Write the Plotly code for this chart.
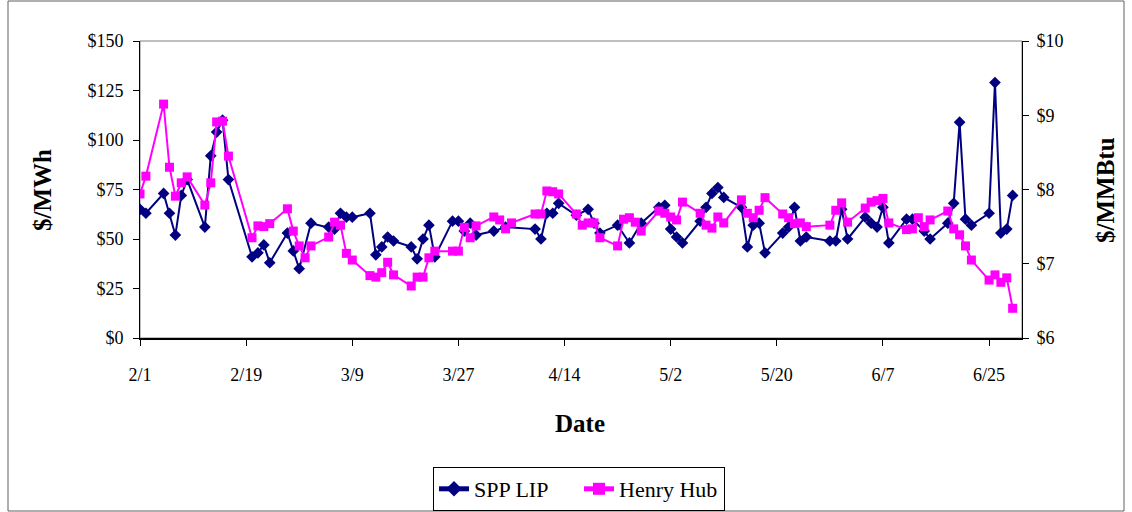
import plotly.graph_objects as go
import pandas as pd

YEAR = 2007

spp_dates = ["2/1", "2/2", "2/5", "2/6", "2/7", "2/8", "2/9", "2/12", "2/13", "2/14", "2/15", "2/16",
             "2/20", "2/21", "2/22", "2/23", "2/26", "2/27", "2/28", "3/2", "3/5", "3/6", "3/7", "3/8", "3/9",
             "3/12", "3/13", "3/14", "3/15", "3/16", "3/19", "3/20", "3/21", "3/22", "3/23",
             "3/26", "3/27", "3/28", "3/29", "3/30", "4/2", "4/4", "4/9", "4/10", "4/11", "4/12", "4/13",
             "4/16", "4/18", "4/19", "4/20", "4/23", "4/25", "4/27", "4/30", "5/1", "5/2", "5/3", "5/4",
             "5/7", "5/8", "5/9", "5/10", "5/11", "5/14", "5/15", "5/16", "5/17", "5/18",
             "5/21", "5/22", "5/23", "5/24", "5/25", "5/29", "5/30", "5/31", "6/1",
             "6/4", "6/5", "6/6", "6/7", "6/8", "6/11", "6/12", "6/14", "6/15",
             "6/18", "6/19", "6/20", "6/21", "6/22", "6/25", "6/26", "6/27", "6/28", "6/29"]
spp_values = [65, 63, 73, 63, 52, 72, 80, 56, 92, 104, 110, 80,
              41, 43, 47, 38, 53, 44, 35, 58, 56, 55, 63, 61, 61,
              63, 42, 46, 51, 49, 46, 40, 50, 57, 41,
              59, 59, 54, 58, 52, 54, 56, 55, 50, 63, 63, 68,
              62, 65, 58, 53, 57, 48, 58, 66, 67, 55, 51, 48,
              59, 66, 73, 76, 71, 66, 46, 57, 58, 43,
              53, 56, 66, 49, 51, 49, 49, 65, 50,
              61, 58, 56, 66, 48, 60, 60, 54, 50,
              58, 68, 109, 60, 57, 63, 129, 53, 55, 72]

hh_dates = ["2/1", "2/2", "2/5", "2/6", "2/7", "2/8", "2/9", "2/12", "2/13", "2/14", "2/15", "2/16",
            "2/20", "2/21", "2/22", "2/23", "2/26", "2/27", "2/28", "3/1", "3/2",
            "3/5", "3/6", "3/7", "3/8", "3/9", "3/12", "3/13", "3/14", "3/15", "3/16",
            "3/19", "3/20", "3/21", "3/22", "3/23", "3/26", "3/27", "3/28", "3/29", "3/30",
            "4/2", "4/3", "4/4", "4/5", "4/9", "4/10", "4/11", "4/12", "4/13",
            "4/16", "4/17", "4/18", "4/19", "4/20", "4/23", "4/24", "4/25", "4/26", "4/27",
            "4/30", "5/1", "5/2", "5/3", "5/4", "5/7", "5/8", "5/9", "5/10", "5/11",
            "5/14", "5/15", "5/16", "5/17", "5/18", "5/21", "5/22", "5/23", "5/24", "5/25",
            "5/29", "5/30", "5/31", "6/1", "6/4", "6/5", "6/6", "6/7", "6/8",
            "6/11", "6/12", "6/13", "6/14", "6/15", "6/18", "6/19", "6/20", "6/21", "6/22",
            "6/25", "6/26", "6/27", "6/28", "6/29"]
hh_values = [7.94, 8.18, 9.15, 8.30, 7.91, 8.09, 8.17, 7.79, 8.09, 8.91, 8.92, 8.45,
             7.35, 7.51, 7.50, 7.54, 7.74, 7.44, 7.24, 7.08, 7.24,
             7.36, 7.56, 7.52, 7.14, 7.05, 6.84, 6.82, 6.88, 7.02, 6.85,
             6.70, 6.82, 6.82, 7.08, 7.17, 7.17, 7.17, 7.49, 7.35, 7.51,
             7.63, 7.59, 7.47, 7.55, 7.67, 7.67, 7.98, 7.97, 7.94,
             7.67, 7.52, 7.55, 7.55, 7.35, 7.24, 7.60, 7.62, 7.56, 7.44,
             7.71, 7.68, 7.63, 7.59, 7.83, 7.68, 7.52, 7.48, 7.63, 7.55,
             7.86, 7.68, 7.62, 7.72, 7.89, 7.67, 7.62, 7.54, 7.55, 7.50,
             7.52, 7.72, 7.82, 7.56, 7.75, 7.83, 7.85, 7.88, 7.55,
             7.46, 7.47, 7.62, 7.50, 7.59, 7.71, 7.47, 7.39, 7.24, 7.05,
             6.78, 6.85, 6.75, 6.81, 6.40]

tick_labels = ["2/1", "2/19", "3/9", "3/27", "4/14", "5/2", "5/20", "6/7", "6/25"]


def to_dt(lst):
    return pd.to_datetime([f"{YEAR}/{s}" for s in lst], format="%Y/%m/%d")


FONT = "Liberation Serif, Times New Roman, serif"
NAVY = "#000080"
MAGENTA = "#FF00FF"

fig = go.Figure()
fig.add_trace(go.Scatter(
    x=to_dt(spp_dates), y=spp_values, name="SPP LIP", mode="lines+markers",
    line=dict(color=NAVY, width=2),
    marker=dict(symbol="diamond", size=9, color=NAVY),
    yaxis="y"))
fig.add_trace(go.Scatter(
    x=to_dt(hh_dates), y=hh_values, name="Henry Hub", mode="lines+markers",
    line=dict(color=MAGENTA, width=2),
    marker=dict(symbol="square", size=9, color=MAGENTA),
    yaxis="y2"))

W, H = 1132, 512
L, R, T, B = 140, 110, 41, 174
pw, ph = W - L - R, H - T - B


def px(x):
    return (x - L) / pw


def py(y):
    return (H - B - y) / ph


fig.update_layout(
    width=W, height=H,
    margin=dict(l=L, r=R, t=T, b=B, pad=0, autoexpand=False),
    paper_bgcolor="white", plot_bgcolor="white",
    font=dict(family=FONT, size=18, color="black"),
    showlegend=True,
    legend=dict(orientation="h", x=px(579), y=py(489), xanchor="center", yanchor="middle",
                bordercolor="black", borderwidth=1, bgcolor="white",
                font=dict(family=FONT, size=22, color="black"),
                entrywidth=100, entrywidthmode="pixels",
                itemsizing="constant", tracegroupgap=0),
    xaxis=dict(
        type="date",
        range=[pd.Timestamp(f"{YEAR}-02-01"), pd.Timestamp(f"{YEAR}-06-30 14:00")],
        tickvals=to_dt(tick_labels), ticktext=tick_labels,
        ticks="outside", ticklen=6, tickcolor="black", tickwidth=1,
        showline=True, linecolor="black", linewidth=1.5,
        showgrid=False, zeroline=False,
        ticklabelstandoff=14,
        tickfont=dict(family=FONT, size=18, color="black"),
    ),
    yaxis=dict(
        range=[0, 150], dtick=25, tick0=0, tickprefix="$",
        ticks="outside", ticklen=6, tickcolor="black",
        showline=True, linecolor="black", linewidth=1,
        showgrid=False, zeroline=False,
        ticklabelstandoff=6,
        tickfont=dict(family=FONT, size=18, color="black"),
    ),
    yaxis2=dict(
        range=[6, 10], dtick=1, tick0=6, tickprefix="$",
        overlaying="y", side="right",
        ticks="outside", ticklen=6, tickcolor="black",
        showline=True, linecolor="black", linewidth=1,
        showgrid=False, zeroline=False,
        ticklabelstandoff=4,
        tickfont=dict(family=FONT, size=18, color="black"),
    ),
    shapes=[
        dict(type="rect", xref="paper", yref="paper", x0=0, x1=1, y0=0, y1=1,
             line=dict(color="#808080", width=1), layer="below"),
        dict(type="rect", xref="paper", yref="paper",
             x0=px(8), x1=px(1124), y0=py(511), y1=py(1),
             line=dict(color="#606060", width=1), layer="below"),
    ],
    annotations=[
        dict(text="<b>$/MWh</b>", xref="paper", yref="paper", x=px(42), y=py(190),
             xanchor="center", yanchor="middle", showarrow=False, textangle=-90,
             font=dict(family=FONT, size=25, color="black")),
        dict(text="<b>$/MMBtu</b>", xref="paper", yref="paper", x=px(1105), y=py(190),
             xanchor="center", yanchor="middle", showarrow=False, textangle=-90,
             font=dict(family=FONT, size=25, color="black")),
        dict(text="<b>Date</b>", xref="paper", yref="paper", x=px(580), y=py(423),
             xanchor="center", yanchor="middle", showarrow=False,
             font=dict(family=FONT, size=25, color="black")),
    ],
)

fig.write_html("out.html")
